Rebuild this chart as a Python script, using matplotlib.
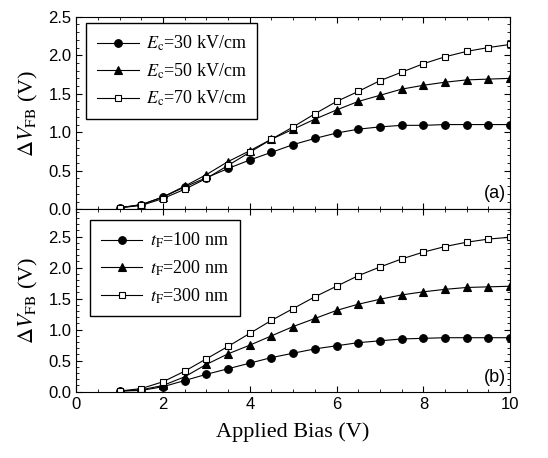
import numpy as np
import matplotlib
matplotlib.use("Agg")
import matplotlib.pyplot as plt
from matplotlib.ticker import MultipleLocator, AutoMinorLocator

plt.rcParams['font.family'] = ['Liberation Sans', 'DejaVu Sans']
plt.rcParams['mathtext.fontset'] = 'stix'

bias = [1.0, 1.5, 2.0, 2.5, 3.0, 3.5, 4.0, 4.5, 5.0, 5.5, 6.0, 6.5, 7.0, 7.5, 8.0, 8.5, 9.0, 9.5, 10.0]

# (a) coercive field
ec30 = [0.02, 0.06, 0.16, 0.29, 0.41, 0.53, 0.64, 0.74, 0.84, 0.92, 0.99, 1.04, 1.07, 1.09, 1.09, 1.10, 1.10, 1.10, 1.10]
ec50 = [0.02, 0.06, 0.16, 0.30, 0.45, 0.62, 0.76, 0.91, 1.04, 1.17, 1.29, 1.40, 1.48, 1.56, 1.61, 1.65, 1.68, 1.69, 1.70]
ec70 = [0.02, 0.05, 0.14, 0.26, 0.40, 0.57, 0.74, 0.91, 1.07, 1.24, 1.40, 1.53, 1.67, 1.78, 1.89, 1.98, 2.05, 2.10, 2.14]
labels_a = ['$E_{\\rm c}$=30 kV/cm', '$E_{\\rm c}$=50 kV/cm', '$E_{\\rm c}$=70 kV/cm']

# (b) film thickness
tf100 = [0.01, 0.02, 0.08, 0.18, 0.28, 0.37, 0.46, 0.55, 0.62, 0.69, 0.74, 0.79, 0.82, 0.85, 0.86, 0.87, 0.87, 0.87, 0.87]
tf200 = [0.01, 0.03, 0.10, 0.24, 0.44, 0.61, 0.75, 0.90, 1.05, 1.18, 1.31, 1.41, 1.49, 1.56, 1.61, 1.65, 1.68, 1.69, 1.70]
tf300 = [0.01, 0.05, 0.16, 0.33, 0.53, 0.73, 0.94, 1.15, 1.34, 1.53, 1.70, 1.87, 2.01, 2.14, 2.25, 2.34, 2.41, 2.46, 2.49]
labels_b = ['$t_{\\rm F}$=100 nm', '$t_{\\rm F}$=200 nm', '$t_{\\rm F}$=300 nm']

styles = [dict(marker='o', ms=5.5, mfc='black'),
          dict(marker='^', ms=6, mfc='black'),
          dict(marker='s', ms=4.5, mfc='white')]

fig = plt.figure(figsize=(5.48, 4.58), dpi=100)
ax1 = fig.add_axes([0.139, 0.543, 0.792, 0.4205])
ax2 = fig.add_axes([0.139, 0.1448, 0.792, 0.3982])

serif = 'Liberation Serif'

def draw(ax, series, labels, ymax, tag, leg_anchor):
    for ys, lab, st in zip(series, labels, styles):
        ax.plot(bias, ys, color='black', lw=0.8, mec='black', mew=0.8, label=lab, **st)
    ax.set_xlim(0, 10)
    ax.set_ylim(0, ymax)
    ax.xaxis.set_major_locator(MultipleLocator(2))
    ax.xaxis.set_minor_locator(AutoMinorLocator(4))
    ax.yaxis.set_major_locator(MultipleLocator(0.5))
    ax.yaxis.set_minor_locator(AutoMinorLocator(5))
    ax.yaxis.set_major_formatter(matplotlib.ticker.FormatStrFormatter('%.1f'))
    ax.tick_params(which='both', direction='in', top=True, right=True, labelsize=12)
    ax.tick_params(which='major', length=4)
    ax.tick_params(which='minor', length=2)
    ax.set_ylabel('$\\Delta V_{\\rm FB}$ (V)', fontsize=16, family=serif, labelpad=6)
    ax.text(0.99, 0.08, tag, transform=ax.transAxes, ha='right', va='center', fontsize=13)
    leg = ax.legend(loc='upper left', bbox_to_anchor=leg_anchor, borderaxespad=0,
                    prop={'family': serif, 'size': 13}, fancybox=False, edgecolor='black',
                    framealpha=1, handlelength=2.3, handletextpad=0.4,
                    labelspacing=0.45, borderpad=0.6)
    leg.get_frame().set_linewidth(1.0)

draw(ax1, [ec30, ec50, ec70], labels_a, 2.5, '(a)', (0.023, 0.967))
draw(ax2, [tf100, tf200, tf300], labels_b, 2.94, '(b)', (0.032, 0.94))
ax1.tick_params(labelbottom=False)
ax2.set_xlabel('Applied Bias (V)', fontsize=16, family=serif, labelpad=8)

fig.savefig('out.png', dpi=100)
